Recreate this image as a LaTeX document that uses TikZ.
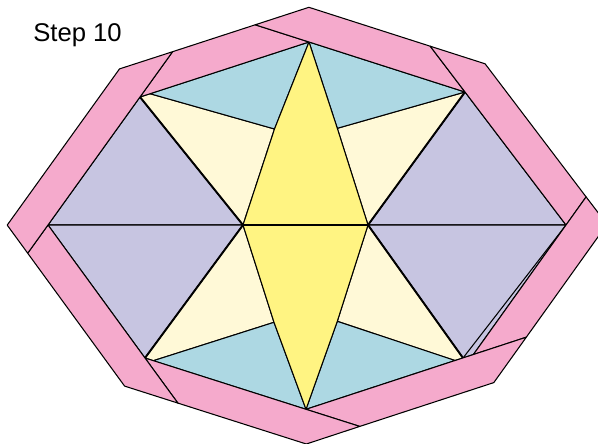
\documentclass[tikz,border=0pt]{standalone}
\usepackage{fontspec}
\setmainfont{Liberation Sans}
\definecolor{pinkstrip}{RGB}{245,170,204}
\definecolor{lavender}{RGB}{199,197,225}
\definecolor{paleblue}{RGB}{173,216,227}
\definecolor{cream}{RGB}{255,249,215}
\definecolor{lemon}{RGB}{255,244,130}
\begin{document}
\begin{tikzpicture}[x=0.02cm,y=-0.02cm,line join=round,
  piece/.style={draw=black,line width=0.6pt},
  strip/.style={piece,fill=pinkstrip},
  seam/.style={line width=1.1pt}]
\useasboundingbox (0,0) rectangle (598,443);
\clip (0,0) rectangle (598,443);
% inner octagon
\coordinate (t) at (309,42);
\coordinate (ur) at (465,92);
\coordinate (r) at (566,225);
\coordinate (lr) at (473.4,354.5);
\coordinate (b) at (306,409.3);
\coordinate (ll) at (145,358);
\coordinate (l) at (48,225);
\coordinate (ul) at (140,97);
% star
\coordinate (cl) at (243,225);
\coordinate (cr) at (368,225);
\coordinate (p1) at (274.5,129);
\coordinate (p2) at (337.3,128.3);
\coordinate (p3) at (274,322.3);
\coordinate (p4) at (337.3,321.3);
\coordinate (ulb) at (150,93.7);
\coordinate (llb) at (153.3,360.7);
\coordinate (lrv) at (463,358);
\coordinate (lrb) at (455,360.5);
% border corners and seams
\coordinate (dt) at (255.2,24.8);
\coordinate (ot) at (308.9,7.3);
\coordinate (dur) at (430.2,46.2);
\coordinate (our) at (485.1,63.8);
\coordinate (dr) at (586.1,196.9);
\coordinate (or) at (607,224.3);
\coordinate (dlr) at (526.3,337.2);
\coordinate (olr) at (493.8,382.6);
\coordinate (db) at (359.8,426.4);
\coordinate (ob) at (306.3,444);
\coordinate (dll) at (177.9,403.1);
\coordinate (oll) at (124.6,386.1);
\coordinate (dl) at (27.7,253.2);
\coordinate (ol) at (7.2,225.1);
\coordinate (oul) at (119.5,68.9);
\coordinate (dul) at (172.6,51.7);

% lavender triangles
\draw[piece,fill=lavender] (ul)--(l)--(cl)--cycle;
\draw[piece,fill=lavender] (l)--(cl)--(ll)--cycle;
\draw[piece,fill=lavender] (ur)--(cr)--(r)--cycle;
\draw[piece,fill=lavender] (cr)--(r)--(lr)--(lrv)--cycle;
\draw[piece] (r)--(lrv);
% cream triangles
\draw[piece,fill=cream] (ul)--(ulb)--(p1)--(cl)--cycle;
\draw[piece,fill=cream] (ll)--(cl)--(p3)--(llb)--cycle;
\draw[piece,fill=cream] (ur)--(p2)--(cr)--cycle;
\draw[piece,fill=cream] (cr)--(p4)--(lrb)--(lrv)--cycle;
% blue triangles
\draw[piece,fill=paleblue] (ulb)--(t)--(p1)--cycle;
\draw[piece,fill=paleblue] (t)--(ur)--(p2)--cycle;
\draw[piece,fill=paleblue] (llb)--(p3)--(b)--cycle;
\draw[piece,fill=paleblue] (b)--(p4)--(lrb)--cycle;
% yellow star
\draw[piece,fill=lemon] (t)--(p2)--(cr)--(p4)--(b)--(p3)--(cl)--(p1)--cycle;
\draw[piece] (cl)--(cr);
\draw[piece,seam] (ul)--(cl)--(ll) (ur)--(cr)--(lrv);

% pink border strips
\draw[strip] (ul)--(dul)--(dt)--(t)--cycle;
\draw[strip] (t)--(dt)--(ot)--(dur)--(ur)--cycle;
\draw[strip] (ur)--(dur)--(our)--(dr)--(r)--cycle;
\draw[strip] (r)--(dr)--(or)--(dlr)--(lr)--cycle;
\draw[strip] (lr)--(dlr)--(olr)--(db)--(b)--cycle;
\draw[strip] (b)--(db)--(ob)--(dll)--(ll)--cycle;
\draw[strip] (ll)--(dll)--(oll)--(dl)--(l)--cycle;
\draw[strip] (l)--(dl)--(ol)--(oul)--(dul)--(ul)--cycle;

\node[anchor=base west,font=\fontsize{14.6}{17}\selectfont,inner sep=0pt] (title) at (33,41) {Step 10};
\end{tikzpicture}
\end{document}
